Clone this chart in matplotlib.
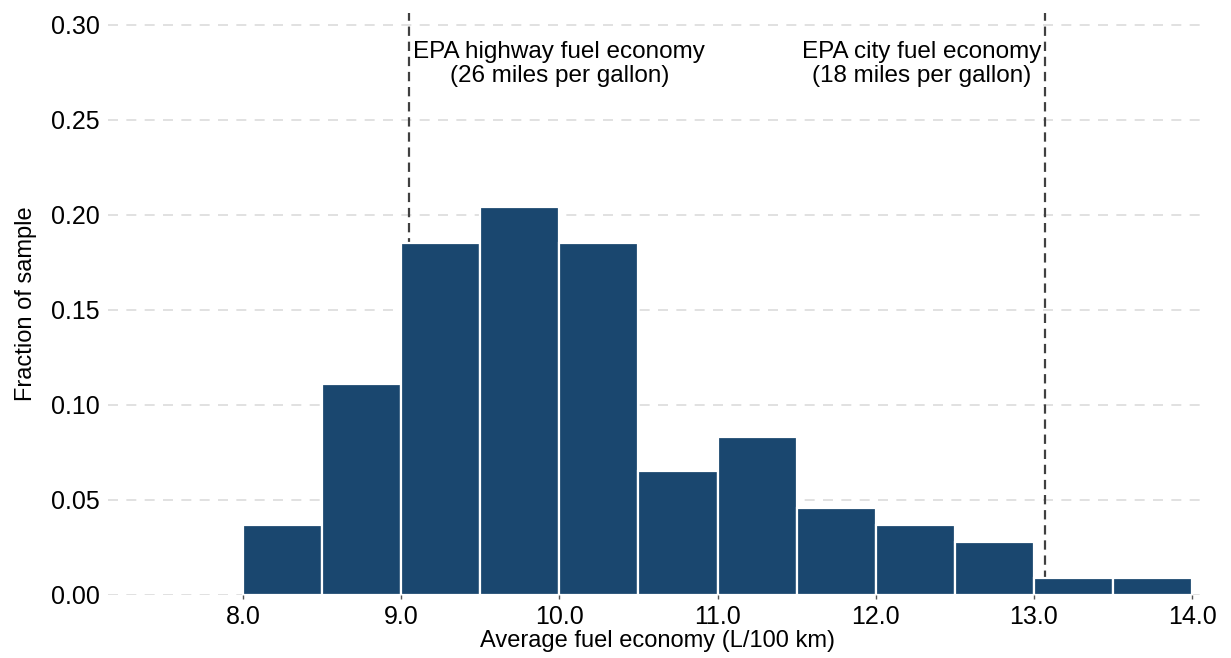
import matplotlib
matplotlib.use("Agg")
import matplotlib.pyplot as plt
import numpy as np

plt.rcParams['font.family'] = ['Liberation Sans', 'DejaVu Sans']

bin_edges = [8.0, 8.5, 9.0, 9.5, 10.0, 10.5, 11.0, 11.5, 12.0, 12.5, 13.0, 13.5, 14.0]
fractions = [0.037, 0.111, 0.185, 0.204, 0.185, 0.065, 0.083, 0.046, 0.037, 0.028, 0.009, 0.009]
x_ticks = [8.0, 9.0, 10.0, 11.0, 12.0, 13.0, 14.0]
x_tick_labels = ["8.0", "9.0", "10.0", "11.0", "12.0", "13.0", "14.0"]
y_ticks = [0.00, 0.05, 0.10, 0.15, 0.20, 0.25, 0.30]
y_tick_labels = ["0.00", "0.05", "0.10", "0.15", "0.20", "0.25", "0.30"]
epa_mpg = [26, 18]
epa_labels = ["EPA highway fuel economy\n(26 miles per gallon)",
              "EPA city fuel economy\n(18 miles per gallon)"]

fig = plt.figure(figsize=(12.31, 6.58), dpi=100)
ax = fig.add_axes([108/1231, (658-595)/658, 1100/1231, 582/658])

lefts = np.array(bin_edges[:-1])
widths = np.diff(bin_edges)
ax.bar(lefts, fractions, width=widths, align='edge', color='#1a476f',
       edgecolor='white', linewidth=1.6, zorder=3)

for mpg, lab in zip(epa_mpg, epa_labels):
    x = 235.215 / mpg
    ax.axvline(x, color='#404040', linestyle=(0, (4.2, 2.6)), linewidth=1.6, zorder=2)
    if mpg == 26:
        ax.text(x + 0.03, 0.2915, lab, ha='left', va='top', fontsize=17.5,
                multialignment='center', color='black', zorder=4, linespacing=1.12)
    else:
        ax.text(x - 0.02, 0.2915, lab, ha='right', va='top', fontsize=17.5,
                multialignment='center', color='black', zorder=4, linespacing=1.12)

ax.set_xlim(7.147, 14.10)
ax.set_ylim(0, 0.3063)
ax.set_yticks(y_ticks)
ax.set_yticklabels(y_tick_labels, fontsize=18)
ax.set_xticks(x_ticks)
ax.set_xticklabels(x_tick_labels, fontsize=18)
ax.tick_params(axis='y', length=0, pad=6)
ax.tick_params(axis='x', length=3, width=1, color='#555555', pad=4)
ax.yaxis.grid(True, color='#dcdcdc', linestyle=(0, (6, 5)), linewidth=1.2, zorder=0)
ax.xaxis.grid(False)
for s in ax.spines.values():
    s.set_visible(False)
ax.set_axisbelow(True)

ax.set_xlabel("Average fuel economy (L/100 km)", fontsize=17, labelpad=1)
ax.set_ylabel("Fraction of sample", fontsize=17, labelpad=10)

fig.savefig("out.png", dpi=100)
